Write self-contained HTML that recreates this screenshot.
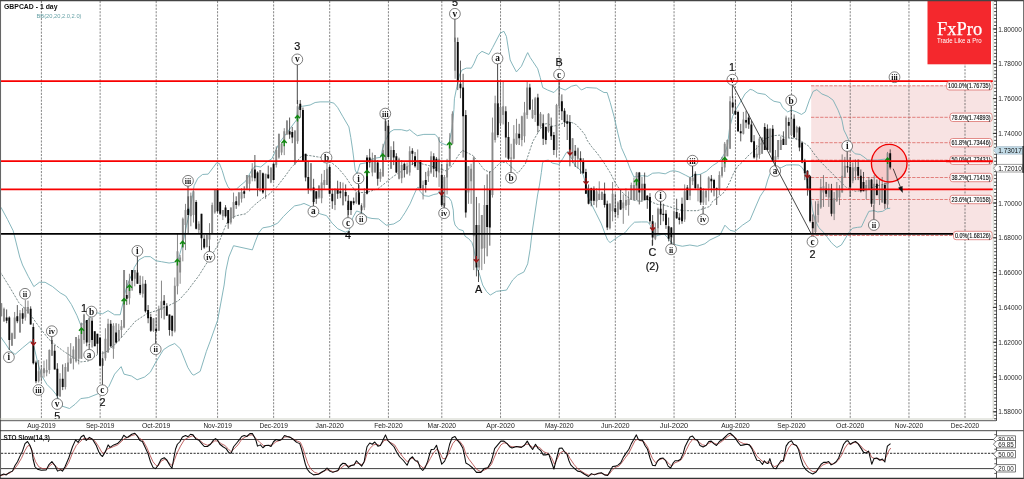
<!DOCTYPE html>
<html><head><meta charset="utf-8"><title>GBPCAD - 1 day</title>
<style>html,body{margin:0;padding:0;background:#fff;overflow:hidden}svg{display:block;filter:blur(0.3px)}</style>
</head><body>
<svg width="1024" height="479" viewBox="0 0 1024 479" font-family="'Liberation Sans', Arial, sans-serif">
<rect width="1024" height="479" fill="#fff"/>
<defs><clipPath id="mc"><rect x="0" y="1" width="993" height="418"/></clipPath></defs>
<g clip-path="url(#mc)">
<rect x="811.2" y="85.6" width="180.4" height="149.7" fill="#f8e3e3"/>
<g stroke="#4a4a4a" stroke-width="0.67" stroke-dasharray="2.1 1.3" fill="none">
<path d="M41.4 1V421M41.4 431V478"/>
<path d="M100.13 1V421M100.13 431V478"/>
<path d="M156.19 1V421M156.19 431V478"/>
<path d="M217.58 1V421M217.58 431V478"/>
<path d="M273.64 1V421M273.64 431V478"/>
<path d="M329.7 1V421M329.7 431V478"/>
<path d="M388.42 1V421M388.42 431V478"/>
<path d="M441.81 1V421M441.81 431V478"/>
<path d="M500.54 1V421M500.54 431V478"/>
<path d="M559.26 1V421M559.26 431V478"/>
<path d="M615.32 1V421M615.32 431V478"/>
<path d="M674.05 1V421M674.05 431V478"/>
<path d="M735.45 1V421M735.45 431V478"/>
<path d="M791.5 1V421M791.5 431V478"/>
<path d="M850.23 1V421M850.23 431V478"/>
<path d="M908.96 1V421M908.96 431V478"/>
<path d="M965.01 1V421M965.01 431V478"/>
</g>
<g stroke="#d9534f" stroke-width="0.7" stroke-dasharray="3.3 1.3" fill="none">
<path d="M811 85.8H946.6"/>
<path d="M811 117.3H950"/>
<path d="M811 142.7H950"/>
<path d="M811 160.2H950"/>
<path d="M811 177.5H950"/>
<path d="M811 199.5H950"/>
<path d="M811 235.5H953.5"/>
</g>
<ellipse cx="889.2" cy="163.2" rx="17.8" ry="18.8" fill="#f7caca"/>
<g fill="none" stroke="#78aeb4" stroke-width="0.9" stroke-linejoin="round">
<polyline points="0.94,207.24 7.51,219.45 13.15,230.72 15.97,242 19.73,257.03 22.54,265 28.18,276.27 33.82,286.6 39.45,282.28 45.09,282.28 52.6,286.6 60.12,292.8 65.75,296 71.39,304.45 77.03,315.72 80.78,325.12 86.42,321.36 92.05,315.72 97.69,312.91 102.39,313.85 108.02,310.65 114.6,314.78 120.23,314.78 123.05,302.57 125.87,289.42 129.63,279.09 133.39,271.58 134.32,267.36 139.02,259.84 144.66,256.65 150.29,256.65 155.93,260.78 161.57,261.72 169.08,263.04 174.72,262.29 178.47,258.9 183.17,242 187.87,219.45 192,198.79 194.09,185.75 197.85,178.24 202.54,174.48 208.18,174.11 212.88,167.91 216.63,162.83 219.45,163.59 222.27,170.72 225.09,180.12 227.91,186.69 230.72,189.89 236.36,189.14 240.12,185.75 245.75,181.06 251.39,170.72 255.15,166.03 260.78,166.97 266.42,162.27 272.05,158.51 275.81,150.06 279.57,142.54 285.21,135.03 290.84,127.51 296.48,120 297.57,109.39 300.08,106.26 302.58,106.26 310.1,105.01 315.11,102.5 320.12,101.88 328.88,101.88 333.89,103.13 337.65,107.51 342.66,116.28 348.92,126.93 350.8,137.57 352.68,150.1 353.93,159.99 355.19,170.03 357.06,173.79 360,163.87 365.64,162.94 369.39,160.12 375.03,158.24 380.67,157.3 382.54,148.85 385.36,140.39 390.06,131.94 393.82,129.68 401.33,129.68 406.97,131 409.78,129.68 413.54,132.88 417.3,135.69 423.87,134.38 435.15,134.38 437.96,137.57 439.84,142.27 442.66,143.59 446.42,145.09 449.24,142.27 452.05,128.18 453.93,109.39 454.42,98.84 456.93,86.31 459.43,75.04 461.94,70.03 466.32,68.15 471.33,68.15 473.84,63.77 477.59,55 481.98,51.35 488.86,54.48 492.62,47.59 500.14,33.19 503.89,31.31 506.4,36.32 510.16,59.99 512.66,65.02 516.42,71.91 521.43,66.27 526.44,55 527.69,52.6 530.2,57.5 532.7,61.26 537.71,68.78 540.22,77.54 542.72,87.56 547.61,90.02 553.87,92.52 558.88,87.51 565.15,90.02 571.41,86.26 576.42,85.01 581.43,90.02 586.44,87.51 596.46,88.14 603.97,92.52 607.1,92.52 610.23,102.54 613.99,116.32 618,133.86 621.37,147.51 626.38,158.79 630.14,168.81 633.89,176.95 637.65,176.32 642.66,175.69 647.67,176.32 652.68,173.19 658.94,172.81 665.21,173.82 670.22,171.31 673.97,170.68 678.98,171.94 685.24,175.07 690.02,177.56 693.78,175.06 700.04,174.43 706.3,171.3 712.56,165.67 717.57,162.53 721.33,158.78 725.09,152.51 727.59,145 729.47,128.84 732.6,116.31 736.36,108.8 740.12,102.53 745.13,93.77 750.14,89.38 752.64,90.01 757.65,93.14 765.17,94.39 770.18,98.78 773.93,101.28 780.2,102.53 782.7,107.54 787.71,111.93 791.47,110.05 796.48,111.93 801.49,114.43 805.24,111.93 809.33,100.2 813.09,91.43 816.85,89.68 821.86,93.93 828.12,96.44 833.13,100.2 838.14,110.22 841.89,119.98 843.86,130 846.36,135.01 848.86,140.65 851.37,150.04 855.13,153.8 860.14,154.42 863.89,156.93 867.65,160.06 877.67,160.06 885.19,159.06"/>
<polyline points="0,336.01 5.64,343.9 9.39,349.73 15.03,354.42 22.54,347.85 31,340.9 33.82,345.97 37.57,361.94 41.33,375.09 46.97,384.48 52.6,390.12 56.36,394.81 62,406.09 69.51,408.53 75.15,404.21 80.78,398.57 88.3,397.63 97.69,393.87 105.21,390.12 108.96,386.36 114.6,374.15 121.17,366.63 123.99,374.15 131.51,376.03 137.14,379.78 144.66,376.97 150.29,372.27 155.93,361.94 163.44,349.73 169.08,345.97 174.72,343.53 180.35,348.79 187.87,367.57 192,374.15 193.89,375.11 200.16,371.35 206.42,351.31 210.18,341.29 217.69,320 224.15,284.99 226.03,270.15 228.85,257 233.54,245.72 242,247.6 252.33,249.86 255.15,241.97 258.9,232.57 262.66,227.88 270.18,226.56 277.69,223.18 283.33,216.6 288.96,210.97 294.6,205.9 300.23,204.77 303.99,203.45 309.63,205.9 319.96,213.79 326.54,215.67 332.17,223.18 337.81,228.82 345.32,232.2 349.08,230.69 352.84,217.54 356.59,210.97 362.23,212.85 367.87,217.54 372,218.48 378.74,218.94 386.25,225.21 393.77,223.95 400.03,220.2 402.56,216.36 405.07,212.6 410.08,203.84 413.84,195.07 416.97,188.18 418.22,186.93 420.1,191.31 423.86,195.69 428.86,196.32 433.87,194.44 437.63,193.82 439.51,190.68 442.02,196.32 445.15,196.32 448.9,197.57 451.41,201.33 453.29,210.1 453.8,220 455.05,225.01 458.81,229.39 463.19,230.65 465.07,236.28 468.83,238.79 471.96,242.54 473.84,248.81 475.71,260.08 477.59,270.1 478.94,272.56 482.69,285.09 486.45,291.35 490.21,295.11 496.47,291.35 506.49,290.1 512.66,279.99 517.67,275.11 523.93,271.98 527.69,263.84 530.2,248.81 532.07,232.52 533.95,220 537.59,194.99 539.47,185.1 541.35,172.57 542.6,162.55 545.11,160.68 548.24,160.05 552.62,163.18 558.88,164.43 562.64,158.8 566.4,152.53 568.28,151.28 570.16,156.29 572.66,160.05 575.17,166.31 577.67,167.56 580.18,170.07 583.31,175.08 585.19,182.59 587.06,187.6 587.55,196.27 591.31,203.79 596.32,213.81 601.33,223.83 605.09,233.85 607.59,240.11 610.1,242.61 615.11,238.86 618.86,236.35 625.13,232.59 630.14,226.33 634.52,222.2 641.41,221.95 647.67,221.95 650.18,225.08 652.68,231.34 655.19,236.35 658.94,235.1 663.95,233.85 667.71,237.6 671.47,242.61 676.48,244.99 682.33,246.26 689.85,245.01 697.36,246.26 704.88,243.76 709.89,240 719.91,235.23 724.92,225.21 729.93,230.22 734.94,231.47 742.45,225.21 749.96,220.2 756.4,204.99 760.16,196.35 765.17,188.84 767.67,180.07 770.18,173.18 775.19,168.8 781.45,167.54 786.46,165.04 792.72,164.79 798.98,165.04 802.11,167.54 805.24,172.55 807.53,185.11 808.79,189.99 810.67,197.52 812.54,210.05 815.05,220.07 818.81,227.58 823.82,232.59 827.57,237.6 831.33,242.61 833.84,244.99 836.88,247.51 841.35,244.99 845.11,238.86 848.86,232.59 852.62,228.21 857.63,227.33 861.39,226.96 865.15,218.82 868.9,211.3 873.91,210.68 877.67,211.93 882.68,211.3 886.44,208.8 890.2,208.17"/>
</g>
<g fill="none" stroke="#4f6666" stroke-width="0.75" stroke-dasharray="2.2 1.3">
<polyline points="0,271.58 9.39,286.6 18.79,302.57 28.18,311.97 33.82,319.48 41.33,329.81 48.85,339.21 56.36,345.78 63.87,351.42 71.39,356.3 80.78,361.94 88.3,361 97.69,354.42 105.21,352.54 114.6,344.84 123.99,334.51 135.26,321.36 146.54,313.85 157.81,310.09 169.08,305.39 178.47,300.69 187.87,290.36 192,284.73 198.79,275.78 208.18,260.75 217.57,245.72 225.09,226.94 228.85,219.42 236.36,215.67 245.75,213.79 255.15,204.39 264.54,196.88 268.3,195 276.28,187.56 285.05,176.29 291.31,167.52 296.32,162.51 300.08,157.5 303.84,155 310.1,155.63 317.61,156.88 321.37,157.5 331.39,162.51 337.65,167.52 345.17,176.29 350.18,183.81 355.19,190.69 360.2,192.57 366.46,192.57 370.22,191.32 377.73,188.82 382.74,185.06 388,180.68 393.82,176.09 401.33,171.39 408.85,165.75 416.36,162 422,163.87 429.51,165.75 438.9,168.57 446.42,171.01 452.05,165.75 457.69,156.36 462.39,150.35 467.08,152.6 472.72,155.42 478.36,162 483.99,169.51 489.63,172.33 493.39,169.51 499.96,162.94 505.6,162 512.17,167.63 517.81,173.27 525.32,163.87 529.08,152.6 532.84,141.33 538.47,131.94 543.17,124.42 547.87,123.48 552,126.3 558.88,125.09 563.89,122.58 570.16,121.96 575.17,123.84 580.18,128.85 585.19,135.11 586.93,140 591.31,146.26 597.57,153.78 603.84,162.54 610.1,172.56 615.11,182.58 618.86,188.22 621.37,191.26 626.38,196.27 632.64,200.03 640.16,201.28 647.67,199.4 652.68,202.53 657.69,204.41 663.95,205.04 670.22,206.92 677.73,209.42 682.74,210.68 688,210.68 697.36,210.68 709.89,206.42 712.56,201.36 717.57,197.6 722.58,193.85 726.34,188.84 730.1,181.32 733.86,172.55 737.61,166.29 742.62,161.91 747.63,156.27 752.64,151.89 757.65,147.5 765.17,138.86 772.68,135.72 780.2,135.1 785.21,137.6 791.47,138.23 796.48,138.86 801.49,141.36 802.52,141.9 808.79,146.28 815.05,155.05 821.31,162.56 827.57,168.83 833.84,175.09 840.1,181.35 846.36,187.61 850.12,188.76 855.13,191.26 861.39,190.64 867.65,188.76 872.66,187.5 880.18,185 885.19,183.86 888.94,183.23"/>
</g>
<path d="M1.3 303.17V316.32M3.97 307.55V321.96M11.98 332.6V345.64M14.65 311.94V338.86M19.99 310.06V332.6M25.32 300.04V320.7M27.99 300.67V313.82M38.67 360.04V382.58M41.34 365.05V381.33M44.01 360.67V377.57M46.68 359.41V376.32M49.35 349.39V373.82M52.02 340V355.66M60.03 373.19V396.99M65.37 363.17V389.47M68.03 346.89V371.94M70.7 343.13V363.8M73.37 346.26V369.43M76.04 336.99V362.54M78.71 335.11V364.42M81.38 322.58V358.79M84.05 313.82V343.76M89.39 317.57V345.01M102.74 351.27V365.68M105.41 328.22V360.67M108.08 318.83V352.52M113.41 323.21V358.79M118.75 323.84V341.25M121.42 320V337.61M124.09 270V328.24M129.43 273.76V304.44M134.77 270V286.28M142.78 276.26V297.55M153.46 318.22V331.9M158.79 305.69V330.65M161.46 280.65V318.22M174.81 277.51V332.52M177.48 233.8V294.42M180.15 255.09V283.78M182.82 217.51V261.35M185.49 203.85V250.08M190.83 192.57V226.28M193.5 190.69V222.52M198.84 221.27V233.8M206.84 234.42V247.57M209.51 223.15V251.33M212.18 202.59V233.17M214.85 190.07V213.76M222.86 210V220.02M230.87 207.6V224.4M233.54 192.57V218.77M238.88 191.95V206.35M241.55 188.19V202.59M246.88 175.04V188.82M249.55 175.04V191.32M252.22 163.14V181.3M260.23 170.03V191.32M265.57 173.79V198.84M270.91 167.52V183.18M276.25 146.34V167.52M278.92 133.82V158.76M281.59 142.58V155.11M284.26 128.18V155.11M286.93 120.04V135.07M294.93 130.06V165.02M297.6 100V143.84M310.95 163.14V191.32M318.96 185.06V198.84M321.63 173.79V203.22M324.3 170.03V188.82M326.97 163.14V185.06M334.98 188.19V210.11M342.98 182.55V205.72M356.33 191.95V203.85M361.67 203.22V211.36M364.34 188.19V210.11M372.35 152.6V176.29M375.02 155V172.53M380.35 168.78V181.93M383.02 143.82V176.92M385.69 120.65V159.99M391.03 146.32V168.86M399.04 157.59V179.41M401.71 160V183.17M407.05 162.5V174.4M409.72 146.32V175.66M417.73 149.45V170.02M423.07 180.67V199.45M428.4 167.51V181.92M431.07 151.33V173.78M439.08 136.93V186.93M444.42 175.02V207.59M447.09 158.85V194.44M449.76 133.17V166.26M452.43 111.25V143.82M455.1 37.57V78.8M468.44 166.25V203.84M471.11 163.76V203.84M473.78 156.34V270.1M479.12 203.2V270.1M481.79 215.1V270.1M484.46 185.04V263.84M492.47 117.57V197.56M495.14 95.7V142.56M500.48 81.93V126.28M503.15 81.93V124.46M511.16 143.77V160.05M513.82 125.09V159.42M516.49 118.83V145.02M521.83 115.69V146.27M524.5 101.92V142.51M527.17 81.25V118.83M532.51 99.41V118.83M535.18 96.91V121.96M540.52 111.99V127.59M548.53 113.19V132.6M556.54 103.85V157.54M559.2 95.66V115.07M572.55 138.24V163.17M577.89 147.51V168.81M596.58 188.22V207.54M599.25 181.33V200.03M601.91 191.36V199.99M609.92 203.16V229.46M612.59 181.96V221.32M617.93 201.28V218.19M623.27 194.39V223.83M625.94 188.22V210.05M628.61 191.35V215.68M631.28 182.58V199.99M633.95 177.57V199.99M636.62 171.94V199.99M641.96 176.95V201.91M655.3 222.57V240.11M657.97 207.54V233.22M673.99 210.68V244.99M684.67 184.45V221.95M690.01 176.94V200.11M692.67 166.92V185.08M698.01 183.83V201.36M703.35 188.21V204.99M706.02 190.09V204.99M708.69 176.31V201.36M719.37 171.3V195.1M722.04 156.9V177.56M724.71 141.99V171.93M727.38 139.48V156.27M730.05 96.27V148.76M743.39 111.93V134.47M756.74 145V160.66M759.41 136.98V158.78M762.08 137.6V153.77M770.09 128.21V152.51M775.43 150.01V165.04M778.1 140.11V159.4M780.76 136.35V150.01M786.1 115.68V144.99M791.44 117.56V136.35M796.78 125.7V140.11M815.47 201.28V233.22M818.14 200.66V222.57M820.81 178.85V208.8M823.48 175.09V206.92M828.81 183.86V206.92M834.15 191.89V220.07M836.82 181.98V201.91M839.49 185.11V205.04M842.16 154.42V192.51M844.83 156.93V177.59M852.84 162.56V183.23M855.51 159.43V180.1M866.19 180.1V199.4M868.85 176.97V189.99M874.19 175.09V205.04M879.53 180.1V205.04M882.2 176.97V202.53M887.54 151.92V208.17" stroke="#555" stroke-width="0.7" fill="none"/>
<path d="M6.64 309.43V323.21M9.31 316.32V350.02M17.32 305.05V323.21M22.66 308.18V323.84M30.66 306.3V324.46M33.33 323.21V364.42M36 360.67V383.21M54.69 345.01V369.43M57.36 363.17V398.86M62.7 364.42V390.1M86.72 320.08V346.26M92.06 317.57V347.51M94.73 331.35V346.26M97.4 333.86V353.78M100.07 337.61V365.68M110.75 320.08V347.51M116.08 323.21V343.76M126.76 280.02V305.05M132.1 270V290.67M137.44 270V283.78M140.11 275.64V295.05M145.45 280.02V312.58M148.12 305.07V323.23M150.79 313.84V331.9M156.13 317.59V331.9M164.13 295.05V319.47M166.8 303.19V315.71M169.47 314.46V335.66M172.14 315.71V336.28M188.16 196.33V233.8M196.17 200.09V229.41M201.51 213.86V250.08M204.17 235.05V248.83M217.52 190.07V212.5M220.19 201.34V215.01M225.53 205.1V217.51M228.2 210.11V228.79M236.21 196.33V208.86M244.22 186.31V198.21M254.89 155V181.3M257.56 171.28V196.33M262.9 172.53V193.83M268.24 165.65V178.8M273.58 163.14V180.68M289.6 117.53V138.83M292.26 126.93V143.21M300.27 100V117.53M302.94 107.51V161.26M305.61 153.86V181.3M308.28 161.26V193.83M313.62 178.8V203.85M316.29 191.32V203.85M329.64 165.65V194.45M332.31 188.82V208.86M337.64 180.68V198.84M340.31 181.93V198.21M345.65 184.43V201.34M348.32 195.08V214.99M350.99 200.71V214.99M353.66 197.58V205.1M359 185.06V205.1M367.01 155.11V194.45M369.68 148.85V167.52M377.69 160V185.68M388.36 120.02V157.59M393.7 141.31V165.11M396.37 153.21V173.15M404.38 162.5V177.53M412.39 148.2V165.11M415.06 151.96V167.61M420.4 160V188.81M425.73 171.9V192.56M433.74 153.21V176.91M436.41 156.97V177.53M441.75 163.76V206.33M457.77 37.57V90.07M460.44 60.64V98.21M463.11 73.79V157.59M465.78 110.11V217.61M476.45 196.94V276.36M487.13 174.39V256.32M489.8 171.26V245.68M497.81 80V137.5M505.82 106.3V157.59M508.49 121.96V160.05M519.16 123.84V145.02M529.84 83.76V110.11M537.85 93.78V132.6M543.19 114.44V145.02M545.86 126.34V144.39M551.2 117.57V139.99M553.87 131.98V155.04M561.87 94.4V120.08M564.54 108.18V126.97M567.21 114.44V139.99M569.88 115.07V166.31M575.22 145.01V166.94M580.56 151.27V173.82M583.23 158.16V173.83M585.9 168.82V193.77M588.57 184.46V204.41M591.24 187.6V206.29M593.91 186.34V205.04M604.58 182.59V207.54M607.25 200.66V230.09M615.26 193.77V217.56M620.6 190.1V210.05M639.29 171.94V204.41M644.63 172.56V199.99M647.29 195.02V208.8M649.96 193.14V223.83M652.63 215.06V244.99M660.64 201.28V225.08M663.31 203.79V221.32M665.98 210.05V228.84M668.65 217.56V241.36M671.32 226.96V244.99M676.66 198.78V218.82M679.33 213.18V224.45M682 197.6V223.83M687.34 185V200.11M695.34 171.3V188.84M700.68 174.43V204.99M711.36 175.06V192.59M714.03 178.82V196.35M716.7 187.58V204.99M732.72 96.27V113.81M735.38 99.4V115.06M738.05 110.68V131.97M740.72 123.83V141.36M746.06 110.68V128.21M748.73 113.81V128.84M751.4 120.69V142.61M754.07 135.1V158.78M764.75 123.2V150.01M767.42 124.45V150.01M772.76 125.08V161.28M783.43 131.34V144.99M788.77 117.56V137.6M794.11 114.43V137.51M799.45 126.33V151.29M802.12 142.61V163.19M804.79 158.81V180.1M807.46 170.05V195.65M810.13 175.71V222.57M812.8 214.43V233.85M826.14 181.98V196.9M831.48 183.86V216.31M847.5 160.06V172.58M850.17 156.93V196.9M858.18 159.43V180.1M860.85 169.45V192.51M863.52 171.96V191.26M871.52 178.85V206.92M876.86 179.47V195.65M884.87 182.6V208.8M890.21 149.41V169.45" stroke="#111" stroke-width="0.7" fill="none"/>
<path d="M1.3 303.17V316.32M3.97 308.81V321.33M11.98 333.23V345.64M14.65 317.57V338.86M19.99 313.19V332.6M25.32 306.93V317.57M27.99 306.93V313.19M38.67 371.31V381.33M41.34 369.43V377.57M44.01 368.18V373.19M46.68 370.06V372.56M49.35 350.02V370.06M52.02 340V355.66M60.03 378.83V396.36M65.37 366.93V386.97M68.03 362.54V371.31M70.7 358.16V363.17M73.37 349.39V358.79M76.04 336.99V361.29M78.71 338.86V358.79M81.38 323.21V358.79M84.05 314.44V340M89.39 317.57V342.5M102.74 358.79V365.68M105.41 338.86V358.16M108.08 323.84V352.52M113.41 325.71V348.77M118.75 330.1V341.25M121.42 326.26V330.1M124.09 270V327.61M129.43 281.27V298.18M134.77 270V278.77M142.78 283.78V293.8M153.46 318.22V330.65M158.79 308.83V330.65M161.46 301.31V310.08M174.81 285.66V331.27M177.48 251.33V286.28M180.15 257.59V272.5M182.82 218.77V247.57M185.49 210.11V225.03M190.83 195.7V216.26M193.5 191.32V215.01M198.84 223.78V230.04M206.84 235.05V246.95M209.51 235.05V239.43M212.18 205.1V233.17M214.85 190.07V212.5M222.86 210.11V216.26M230.87 207.6V222.52M233.54 201.97V217.51M238.88 192.57V205.1M241.55 191.95V198.84M246.88 175.04V188.82M249.55 175.67V183.81M252.22 168.78V177.54M260.23 170.03V191.32M265.57 173.79V190.07M270.91 167.52V182.55M276.25 150.1V165.02M278.92 133.82V157.5M281.59 143.84V152.6M284.26 131.31V142.58M286.93 120.67V134.44M294.93 130.68V163.77M297.6 106.26V141.33M310.95 163.14V190.07M318.96 185.68V197.58M321.63 182.55V198.21M324.3 180.05V185.06M326.97 168.78V185.06M334.98 189.44V205.1M342.98 190.07V205.1M356.33 192.57V202.59M361.67 206.35V210.11M364.34 193.83V207.6M372.35 158.86V172.53M375.02 155.11V172.52M380.35 171.9V178.79M383.02 150.1V176.29M385.69 121.27V159.99M391.03 150.08V168.77M399.04 158.85V178.79M401.71 165.11V178.16M407.05 166.26V173.78M409.72 151.33V172.52M417.73 160V170.02M423.07 185.05V190.06M428.4 170.65V176.28M431.07 156.34V172.52M439.08 158.85V172.52M444.42 176.9V205.71M447.09 163.76V177.53M449.76 145.07V166.26M452.43 113.76V143.82M455.1 41.96V70.66M468.44 166.36V192.56M471.11 168.86V181.28M473.78 157.59V236.28M479.12 224.99V267.59M481.79 215.1V248.81M484.46 205.08V248.18M492.47 132.6V194.99M495.14 103.17V139.99M500.48 106.93V123.21M503.15 106.35V115.01M511.16 157.54V158.8M513.82 138.86V158.8M516.49 133.23V143.77M521.83 116.32V139.99M524.5 112.61V136.25M527.17 87.51V114.99M532.51 110.06V118.2M535.18 98.21V114.99M540.52 113.86V126.34M548.53 113.86V131.35M556.54 105.1V150.03M559.2 96.28V106.3M572.55 138.24V158.8M577.89 148.14V158.8M596.58 191.36V201.28M599.25 193.77V199.99M601.91 191.89V199.99M609.92 203.79V228.21M612.59 193.86V211.3M617.93 202.53V215.06M623.27 202.53V208.17M625.94 199.99V205.67M628.61 198.78V205.04M631.28 185V199.99M633.95 185V199.99M636.62 172.56V199.99M641.96 183.84V199.99M655.3 228.84V238.86M657.97 208.8V228.21M673.99 211.3V244.99M684.67 191.26V219.44M690.01 177.56V195.72M692.67 177.56V181.32M698.01 184.45V188.21M703.35 191.34V202.61M706.02 190.71V197.6M708.69 177.56V188.21M719.37 175.06V188.84M722.04 166.92V175.68M724.71 143.86V167.54M727.38 140.11V156.27M730.05 101.28V148.76M743.39 119.44V133.85M756.74 153.77V157.52M759.41 138.86V155.02M762.08 137.6V153.77M770.09 128.84V152.51M775.43 156.27V160.66M778.1 140.11V156.9M780.76 140.11V150.01M786.1 117.56V144.99M791.44 118.82V135.01M796.78 126.96V132.5M815.47 215.68V231.97M818.14 203.79V215.06M820.81 186.88V207.54M823.48 186.36V192.51M828.81 188.86V197.52M834.15 198.15V213.81M836.82 188.86V200.66M839.49 188.86V197.52M842.16 175.71V192.51M844.83 165.69V177.59M852.84 167.57V180.72M855.51 166.95V171.33M866.19 185V191.26M868.85 180.1V189.99M874.19 183.86V203.79M879.53 188.86V198.78M882.2 185V202.53M887.54 153.17V204.41" stroke="#8a8a8a" stroke-width="1.9" fill="none"/>
<path d="M6.64 317.57V320.7M9.31 317.57V340M17.32 316.32V321.33M22.66 313.19V318.83M30.66 308.81V324.46M33.33 326.97V363.17M36 362.54V381.33M54.69 350.65V369.43M57.36 368.81V395.73M62.7 378.83V386.97M86.72 320.08V342.5M92.06 320.7V340M94.73 331.35V346.26M97.4 333.86V343.76M100.07 337.61V365.68M110.75 323.84V346.26M116.08 332.6V342.5M126.76 295.03V298.79M132.1 270V280.65M137.44 272.5V283.78M140.11 285.03V293.17M145.45 283.78V311.33M148.12 310.08V318.22M150.79 316.97V330.65M156.13 328.86V331.27M164.13 300.68V305.07M166.8 306.32V315.71M169.47 314.46V329.99M172.14 315.71V330.65M188.16 208.86V215.01M196.17 201.97V228.79M201.51 213.86V238.18M204.17 238.81V247.57M217.52 190.07V211.25M220.19 201.97V213.86M225.53 207.6V216.26M228.2 210.11V223.15M236.21 201.34V205.1M244.22 191.32V193.83M254.89 169.4V178.17M257.56 172.53V188.19M262.9 173.16V192.57M268.24 174.41V178.17M273.58 163.77V180.05M289.6 131.31V134.44M292.26 131.94V137.57M300.27 103.76V110.02M302.94 110.02V161.26M305.61 153.86V177.54M308.28 176.92V190.07M313.62 187.56V201.97M316.29 191.32V198.84M329.64 166.9V193.83M332.31 193.83V201.34M337.64 190.07V193.83M340.31 191.32V193.2M345.65 191.95V196.33M348.32 200.71V210.11M350.99 201.34V210.11M353.66 201.34V203.22M359 192.57V204.47M367.01 157.61V193.83M369.68 157.5V162.51M377.69 162.51V178.8M388.36 125.66V156.97M393.7 150.08V157.59M396.37 156.34V172.52M404.38 163.76V169.99M412.39 150.7V153.84M415.06 156.34V166.36M420.4 160V188.18M425.73 180.04V185.05M433.74 156.34V168.86M436.41 158.85V171.26M441.75 175.02V205.09M457.77 41.96V80.68M460.44 83.81V88.19M463.11 87.56V116.26M465.78 114.99V212.6M476.45 224.99V267.59M487.13 205.08V226.89M489.8 189.42V227.51M497.81 103.17V135M505.82 111.36V137.5M508.49 136.99V158.8M519.16 133.86V138.24M529.84 87.51V109.43M537.85 97.53V125.71M543.19 123.21V138.86M545.86 126.97V139.99M551.2 126.34V136.25M553.87 135V150.03M561.87 101.29V111.31M564.54 110.68V121.96M567.21 121.33V123.84M569.88 121.96V150.03M575.22 150.66V155.66M580.56 158.16V161.3M583.23 161.29V173.19M585.9 171.94V193.77M588.57 188.86V203.79M591.24 188.22V200.66M593.91 188.85V200.66M604.58 193.86V205.04M607.25 203.79V227.58M615.26 208.17V211.93M620.6 199.99V209.42M639.29 172.56V192.6M644.63 183.84V199.99M647.29 195.65V200.03M649.96 196.9V221.32M652.63 221.32V237.6M660.64 208.8V214.43M663.31 213.81V215.06M665.98 213.81V225.08M668.65 226.33V238.86M671.32 227.58V237.6M676.66 211.93V218.19M679.33 217.56V220.07M682 203.86V221.32M687.34 187.59V199.99M695.34 173.81V188.21M700.68 187.58V202.61M711.36 178.82V181.32M714.03 180.07V188.21M716.7 188.21V189.46M732.72 102.53V107.54M735.38 110.68V114.43M738.05 111.93V131.34M740.72 131.34V133.22M746.06 120.07V122.57M748.73 117.56V124.45M751.4 124.45V141.99M754.07 141.36V157.52M764.75 126.96V150.01M767.42 128.84V150.01M772.76 128.84V160.66M783.43 138.86V144.99M788.77 121.95V125.7M794.11 118.82V137.51M799.45 127.58V147.5M802.12 142.61V162.53M804.79 160.68V173.18M807.46 170.68V188.84M810.13 176.34V221.32M812.8 221.95V228.21M826.14 188.86V193.77M831.48 188.86V213.81M847.5 166.32V167.57M850.17 166.95V187.5M858.18 166.95V175.71M860.85 175.71V191.26M863.52 181.98V191.26M871.52 179.47V203.79M876.86 183.86V195.02M884.87 185V203.79M890.21 153.17V167.57" stroke="#0a0a0a" stroke-width="1.9" fill="none"/>
<path d="M81.5 328.1v6M79 330.8l2.5 -2.7l2.5 2.7" fill="none" stroke="#118811" stroke-width="1.4" stroke-linejoin="miter"/>
<path d="M124.1 298.6v6M121.6 301.3l2.5 -2.7l2.5 2.7" fill="none" stroke="#118811" stroke-width="1.4" stroke-linejoin="miter"/>
<path d="M129.5 285v6M127 287.7l2.5 -2.7l2.5 2.7" fill="none" stroke="#118811" stroke-width="1.4" stroke-linejoin="miter"/>
<path d="M177.4 259.4v6M174.9 262.1l2.5 -2.7l2.5 2.7" fill="none" stroke="#118811" stroke-width="1.4" stroke-linejoin="miter"/>
<path d="M182.6 241.2v6M180.1 243.9l2.5 -2.7l2.5 2.7" fill="none" stroke="#118811" stroke-width="1.4" stroke-linejoin="miter"/>
<path d="M284.2 140.2v6M281.7 142.9l2.5 -2.7l2.5 2.7" fill="none" stroke="#118811" stroke-width="1.4" stroke-linejoin="miter"/>
<path d="M297.5 115.6v6M295 118.3l2.5 -2.7l2.5 2.7" fill="none" stroke="#118811" stroke-width="1.4" stroke-linejoin="miter"/>
<path d="M367 170.2v6M364.5 172.9l2.5 -2.7l2.5 2.7" fill="none" stroke="#118811" stroke-width="1.4" stroke-linejoin="miter"/>
<path d="M382.8 154.1v6M380.3 156.8l2.5 -2.7l2.5 2.7" fill="none" stroke="#118811" stroke-width="1.4" stroke-linejoin="miter"/>
<path d="M449.6 142.4v6M447.1 145.1l2.5 -2.7l2.5 2.7" fill="none" stroke="#118811" stroke-width="1.4" stroke-linejoin="miter"/>
<path d="M636.5 179.4v6M634 182.1l2.5 -2.7l2.5 2.7" fill="none" stroke="#118811" stroke-width="1.4" stroke-linejoin="miter"/>
<path d="M724.7 157.5v6M722.2 160.2l2.5 -2.7l2.5 2.7" fill="none" stroke="#118811" stroke-width="1.4" stroke-linejoin="miter"/>
<path d="M887.6 158.1v6M885.1 160.8l2.5 -2.7l2.5 2.7" fill="none" stroke="#118811" stroke-width="1.4" stroke-linejoin="miter"/>
<path d="M33.4 345v-6M30.9 342.3l2.5 2.7l2.5 -2.7" fill="none" stroke="#991515" stroke-width="1.4" stroke-linejoin="miter"/>
<path d="M441.5 195v-6M439 192.3l2.5 2.7l2.5 -2.7" fill="none" stroke="#991515" stroke-width="1.4" stroke-linejoin="miter"/>
<path d="M476.3 261.9v-6M473.8 259.2l2.5 2.7l2.5 -2.7" fill="none" stroke="#991515" stroke-width="1.4" stroke-linejoin="miter"/>
<path d="M570 155v-6M567.5 152.3l2.5 2.7l2.5 -2.7" fill="none" stroke="#991515" stroke-width="1.4" stroke-linejoin="miter"/>
<path d="M586 183.9v-6M583.5 181.2l2.5 2.7l2.5 -2.7" fill="none" stroke="#991515" stroke-width="1.4" stroke-linejoin="miter"/>
<path d="M652.6 230.1v-6M650.1 227.4l2.5 2.7l2.5 -2.7" fill="none" stroke="#991515" stroke-width="1.4" stroke-linejoin="miter"/>
<path d="M807.4 177.6v-6M804.9 174.9l2.5 2.7l2.5 -2.7" fill="none" stroke="#991515" stroke-width="1.4" stroke-linejoin="miter"/>
<g stroke="#1a1a1a" stroke-width="0.8" fill="none">
<path d="M297.3 64.7L297.3 104"/>
<path d="M454.9 19L454.9 42"/>
<path d="M497.6 63.8L497.6 103"/>
<path d="M559.1 80L559.1 96"/>
<path d="M732.4 85L732.4 98"/>
<path d="M791.2 105.6L791.2 119"/>
<path d="M188 186L188 209"/>
<path d="M137.4 256.2L137.4 272.5"/>
<path d="M155.7 332L155.7 343.8"/>
<path d="M102.4 358L102.4 385"/>
<path d="M89.2 344L89.2 349.5"/>
<path d="M51.8 336.5L51.8 344"/>
<path d="M209.4 246L209.4 251.5"/>
<path d="M511 160L511 172.5"/>
<path d="M703.1 206L703.1 214"/>
<path d="M873.9 205L873.9 219.7"/>
<path d="M847.2 151.3L847.2 160"/>
<path d="M348 205L348 217.7"/>
<path d="M385.3 119L385.3 131"/>
<path d="M660.6 201.3L660.6 209"/>
<path d="M478.5 270L478.5 282"/>
<path d="M652.3 240L652.3 246"/>
<path d="M775.2 160L775.2 165.7"/>
<path d="M313.4 200L313.4 206.2"/>
<path d="M358.5 183.7L358.5 194"/>
<path d="M361.3 205L361.3 213.7"/>
<path d="M671.1 238L671.1 244"/>
<path d="M444.1 203L444.1 208"/>
<path d="M692.5 166L692.5 177"/>
</g>
<circle cx="8.9" cy="357.2" r="5.4" fill="#fff" stroke="#3a3a3a" stroke-width="0.65"/>
<text x="8.9" y="360.4" font-family="'Liberation Serif', serif" font-weight="bold" font-size="9.3" text-anchor="middle" fill="#111">i</text>
<circle cx="25" cy="293.8" r="5.4" fill="#fff" stroke="#3a3a3a" stroke-width="0.65"/>
<text x="25" y="297" font-family="'Liberation Serif', serif" font-weight="bold" font-size="7.9" text-anchor="middle" fill="#111">ii</text>
<circle cx="38.5" cy="390" r="5.4" fill="#fff" stroke="#3a3a3a" stroke-width="0.65"/>
<text x="38.5" y="393.2" font-family="'Liberation Serif', serif" font-weight="bold" font-size="7.9" text-anchor="middle" fill="#111">iii</text>
<circle cx="51.8" cy="331.2" r="5.4" fill="#fff" stroke="#3a3a3a" stroke-width="0.65"/>
<text x="51.8" y="334.2" font-family="'Liberation Serif', serif" font-weight="bold" font-size="7.9" text-anchor="middle" fill="#111">iv</text>
<circle cx="57.2" cy="404" r="5.4" fill="#fff" stroke="#3a3a3a" stroke-width="0.65"/>
<text x="57.2" y="406.9" font-family="'Liberation Serif', serif" font-weight="bold" font-size="9.3" text-anchor="middle" fill="#111">v</text>
<circle cx="91.5" cy="311.6" r="5.4" fill="#fff" stroke="#3a3a3a" stroke-width="0.65"/>
<text x="91.5" y="314.8" font-family="'Liberation Serif', serif" font-weight="bold" font-size="9.3" text-anchor="middle" fill="#111">b</text>
<circle cx="89.2" cy="354.8" r="5.4" fill="#fff" stroke="#3a3a3a" stroke-width="0.65"/>
<text x="89.2" y="357.7" font-family="'Liberation Serif', serif" font-weight="bold" font-size="9.3" text-anchor="middle" fill="#111">a</text>
<circle cx="102.4" cy="390.2" r="5.4" fill="#fff" stroke="#3a3a3a" stroke-width="0.65"/>
<text x="102.4" y="393.1" font-family="'Liberation Serif', serif" font-weight="bold" font-size="9.3" text-anchor="middle" fill="#111">c</text>
<circle cx="137.4" cy="250.9" r="5.4" fill="#fff" stroke="#3a3a3a" stroke-width="0.65"/>
<text x="137.4" y="254.1" font-family="'Liberation Serif', serif" font-weight="bold" font-size="9.3" text-anchor="middle" fill="#111">i</text>
<circle cx="155.7" cy="349.2" r="5.4" fill="#fff" stroke="#3a3a3a" stroke-width="0.65"/>
<text x="155.7" y="352.4" font-family="'Liberation Serif', serif" font-weight="bold" font-size="7.9" text-anchor="middle" fill="#111">ii</text>
<circle cx="188" cy="180.8" r="5.4" fill="#fff" stroke="#3a3a3a" stroke-width="0.65"/>
<text x="188" y="184" font-family="'Liberation Serif', serif" font-weight="bold" font-size="7.9" text-anchor="middle" fill="#111">iii</text>
<circle cx="209.4" cy="256.8" r="5.4" fill="#fff" stroke="#3a3a3a" stroke-width="0.65"/>
<text x="209.4" y="259.8" font-family="'Liberation Serif', serif" font-weight="bold" font-size="7.9" text-anchor="middle" fill="#111">iv</text>
<circle cx="297.3" cy="59.4" r="5.4" fill="#fff" stroke="#3a3a3a" stroke-width="0.65"/>
<text x="297.3" y="62.3" font-family="'Liberation Serif', serif" font-weight="bold" font-size="9.3" text-anchor="middle" fill="#111">v</text>
<circle cx="313.4" cy="211.5" r="5.4" fill="#fff" stroke="#3a3a3a" stroke-width="0.65"/>
<text x="313.4" y="214.4" font-family="'Liberation Serif', serif" font-weight="bold" font-size="9.3" text-anchor="middle" fill="#111">a</text>
<circle cx="326.5" cy="157.6" r="5.4" fill="#fff" stroke="#3a3a3a" stroke-width="0.65"/>
<text x="326.5" y="160.8" font-family="'Liberation Serif', serif" font-weight="bold" font-size="9.3" text-anchor="middle" fill="#111">b</text>
<circle cx="348" cy="223" r="5.4" fill="#fff" stroke="#3a3a3a" stroke-width="0.65"/>
<text x="348" y="225.9" font-family="'Liberation Serif', serif" font-weight="bold" font-size="9.3" text-anchor="middle" fill="#111">c</text>
<circle cx="361.3" cy="219" r="5.4" fill="#fff" stroke="#3a3a3a" stroke-width="0.65"/>
<text x="361.3" y="222.2" font-family="'Liberation Serif', serif" font-weight="bold" font-size="7.9" text-anchor="middle" fill="#111">ii</text>
<circle cx="358.5" cy="178.4" r="5.4" fill="#fff" stroke="#3a3a3a" stroke-width="0.65"/>
<text x="358.5" y="181.6" font-family="'Liberation Serif', serif" font-weight="bold" font-size="9.3" text-anchor="middle" fill="#111">i</text>
<circle cx="385.3" cy="113.6" r="5.4" fill="#fff" stroke="#3a3a3a" stroke-width="0.65"/>
<text x="385.3" y="116.8" font-family="'Liberation Serif', serif" font-weight="bold" font-size="7.9" text-anchor="middle" fill="#111">iii</text>
<circle cx="444.1" cy="213.2" r="5.4" fill="#fff" stroke="#3a3a3a" stroke-width="0.65"/>
<text x="444.1" y="216.2" font-family="'Liberation Serif', serif" font-weight="bold" font-size="7.9" text-anchor="middle" fill="#111">iv</text>
<circle cx="454.9" cy="13.8" r="5.4" fill="#fff" stroke="#3a3a3a" stroke-width="0.65"/>
<text x="454.9" y="16.7" font-family="'Liberation Serif', serif" font-weight="bold" font-size="9.3" text-anchor="middle" fill="#111">v</text>
<circle cx="497.5" cy="58.5" r="5.4" fill="#fff" stroke="#3a3a3a" stroke-width="0.65"/>
<text x="497.5" y="61.4" font-family="'Liberation Serif', serif" font-weight="bold" font-size="9.3" text-anchor="middle" fill="#111">a</text>
<circle cx="511" cy="177.8" r="5.4" fill="#fff" stroke="#3a3a3a" stroke-width="0.65"/>
<text x="511" y="181" font-family="'Liberation Serif', serif" font-weight="bold" font-size="9.3" text-anchor="middle" fill="#111">b</text>
<circle cx="559.1" cy="74.6" r="5.4" fill="#fff" stroke="#3a3a3a" stroke-width="0.65"/>
<text x="559.1" y="77.5" font-family="'Liberation Serif', serif" font-weight="bold" font-size="9.3" text-anchor="middle" fill="#111">c</text>
<circle cx="660.6" cy="196" r="5.4" fill="#fff" stroke="#3a3a3a" stroke-width="0.65"/>
<text x="660.6" y="199.2" font-family="'Liberation Serif', serif" font-weight="bold" font-size="9.3" text-anchor="middle" fill="#111">i</text>
<circle cx="671.1" cy="249.3" r="5.4" fill="#fff" stroke="#3a3a3a" stroke-width="0.65"/>
<text x="671.1" y="252.5" font-family="'Liberation Serif', serif" font-weight="bold" font-size="7.9" text-anchor="middle" fill="#111">ii</text>
<circle cx="692.5" cy="160.7" r="5.4" fill="#fff" stroke="#3a3a3a" stroke-width="0.65"/>
<text x="692.5" y="163.9" font-family="'Liberation Serif', serif" font-weight="bold" font-size="7.9" text-anchor="middle" fill="#111">iii</text>
<circle cx="703.1" cy="219.4" r="5.4" fill="#fff" stroke="#3a3a3a" stroke-width="0.65"/>
<text x="703.1" y="222.4" font-family="'Liberation Serif', serif" font-weight="bold" font-size="7.9" text-anchor="middle" fill="#111">iv</text>
<circle cx="732.4" cy="79.7" r="5.4" fill="#fff" stroke="#3a3a3a" stroke-width="0.65"/>
<text x="732.4" y="82.6" font-family="'Liberation Serif', serif" font-weight="bold" font-size="9.3" text-anchor="middle" fill="#111">v</text>
<circle cx="775.2" cy="171" r="5.4" fill="#fff" stroke="#3a3a3a" stroke-width="0.65"/>
<text x="775.2" y="173.9" font-family="'Liberation Serif', serif" font-weight="bold" font-size="9.3" text-anchor="middle" fill="#111">a</text>
<circle cx="791.2" cy="100.3" r="5.4" fill="#fff" stroke="#3a3a3a" stroke-width="0.65"/>
<text x="791.2" y="103.5" font-family="'Liberation Serif', serif" font-weight="bold" font-size="9.3" text-anchor="middle" fill="#111">b</text>
<circle cx="812.5" cy="241.6" r="5.4" fill="#fff" stroke="#3a3a3a" stroke-width="0.65"/>
<text x="812.5" y="244.5" font-family="'Liberation Serif', serif" font-weight="bold" font-size="9.3" text-anchor="middle" fill="#111">c</text>
<circle cx="847.2" cy="146" r="5.4" fill="#fff" stroke="#3a3a3a" stroke-width="0.65"/>
<text x="847.2" y="149.2" font-family="'Liberation Serif', serif" font-weight="bold" font-size="9.3" text-anchor="middle" fill="#111">i</text>
<circle cx="873.9" cy="225" r="5.4" fill="#fff" stroke="#3a3a3a" stroke-width="0.65"/>
<text x="873.9" y="228.2" font-family="'Liberation Serif', serif" font-weight="bold" font-size="7.9" text-anchor="middle" fill="#111">ii</text>
<circle cx="894.5" cy="77.2" r="5.4" fill="#fff" stroke="#3a3a3a" stroke-width="0.65"/>
<text x="894.5" y="80.4" font-family="'Liberation Serif', serif" font-weight="bold" font-size="7.9" text-anchor="middle" fill="#111">iii</text>
<text x="57.3" y="419.5" font-size="10.8" text-anchor="middle" fill="#111" stroke="#111" stroke-width="0.2">5</text>
<text x="84" y="312.1" font-size="10.8" text-anchor="middle" fill="#111" stroke="#111" stroke-width="0.2">1</text>
<text x="102.4" y="406.3" font-size="10.8" text-anchor="middle" fill="#111" stroke="#111" stroke-width="0.2">2</text>
<text x="297.3" y="50.2" font-size="10.8" text-anchor="middle" fill="#111" stroke="#111" stroke-width="0.2">3</text>
<text x="348.1" y="239.3" font-size="10.8" text-anchor="middle" fill="#111" stroke="#111" stroke-width="0.2">4</text>
<text x="454.9" y="5.9" font-size="10.8" text-anchor="middle" fill="#111" stroke="#111" stroke-width="0.2">5</text>
<text x="478.5" y="292.7" font-size="10.8" text-anchor="middle" fill="#111" stroke="#111" stroke-width="0.2">A</text>
<text x="559.1" y="66" font-size="10.8" text-anchor="middle" fill="#111" stroke="#111" stroke-width="0.2">B</text>
<text x="652.3" y="256.4" font-size="10.8" text-anchor="middle" fill="#111" stroke="#111" stroke-width="0.2">C</text>
<text x="652.3" y="269.7" font-size="10.8" text-anchor="middle" fill="#111" stroke="#111" stroke-width="0.2">(2)</text>
<text x="732" y="71" font-size="10.8" text-anchor="middle" fill="#111" stroke="#111" stroke-width="0.2">1</text>
<text x="812.6" y="257.7" font-size="10.8" text-anchor="middle" fill="#111" stroke="#111" stroke-width="0.2">2</text>
<g stroke="#f80000" stroke-width="1.8">
<path d="M1 81.2H993"/>
<path d="M1 161.2H993"/>
<path d="M1 189.4H993"/>
</g>
<path d="M1 233.9H953" stroke="#000" stroke-width="1.9"/>
<g stroke="#1a1a1a" stroke-width="0.8" fill="none">
<path d="M733.2 85.6L811 233.3"/>
</g>
<ellipse cx="889.2" cy="163.2" rx="17.8" ry="18.8" fill="none" stroke="#f00000" stroke-width="1.35"/>
<path d="M893.2 168.7L900.6 187.6" stroke="#111" stroke-width="0.75"/>
<path d="M902.8 193.0L898.1 187.8L902.5 186.1z" fill="#111"/>
</g>
<rect x="946.6" y="81.6" width="45.6" height="8.4" rx="2.6" fill="#fff" stroke="#d9605c" stroke-width="0.7"/>
<text x="948.1" y="88.05" font-size="6.3" textLength="42.4" lengthAdjust="spacingAndGlyphs" fill="#111" stroke="#111" stroke-width="0.12">100.0%(1.76735)</text>
<rect x="950" y="113.1" width="42.2" height="8.4" rx="2.6" fill="#fff" stroke="#d9605c" stroke-width="0.7"/>
<text x="951.5" y="119.55" font-size="6.3" textLength="39" lengthAdjust="spacingAndGlyphs" fill="#111" stroke="#111" stroke-width="0.12">78.6%(1.74893)</text>
<rect x="950" y="138.5" width="42.2" height="8.4" rx="2.6" fill="#fff" stroke="#d9605c" stroke-width="0.7"/>
<text x="951.5" y="144.95" font-size="6.3" textLength="39" lengthAdjust="spacingAndGlyphs" fill="#111" stroke="#111" stroke-width="0.12">61.8%(1.73446)</text>
<rect x="950" y="156" width="42.2" height="8.4" rx="2.6" fill="#fff" stroke="#d9605c" stroke-width="0.7"/>
<text x="951.5" y="162.45" font-size="6.3" textLength="39" lengthAdjust="spacingAndGlyphs" fill="#111" stroke="#111" stroke-width="0.12">50.0%(1.72431)</text>
<rect x="950" y="173.3" width="42.2" height="8.4" rx="2.6" fill="#fff" stroke="#d9605c" stroke-width="0.7"/>
<text x="951.5" y="179.75" font-size="6.3" textLength="39" lengthAdjust="spacingAndGlyphs" fill="#111" stroke="#111" stroke-width="0.12">38.2%(1.71415)</text>
<rect x="950" y="195.3" width="42.2" height="8.4" rx="2.6" fill="#fff" stroke="#d9605c" stroke-width="0.7"/>
<text x="951.5" y="201.75" font-size="6.3" textLength="39" lengthAdjust="spacingAndGlyphs" fill="#111" stroke="#111" stroke-width="0.12">23.6%(1.70158)</text>
<rect x="953.5" y="231.3" width="38.7" height="8.4" rx="2.6" fill="#fff" stroke="#d9605c" stroke-width="0.7"/>
<text x="955" y="237.75" font-size="6.3" textLength="35.5" lengthAdjust="spacingAndGlyphs" fill="#111" stroke="#111" stroke-width="0.12">0.0%(1.68126)</text>
<path d="M946 161.2H993" stroke="#f80000" stroke-width="1.9"/>
<rect x="927.5" y="0" width="63.5" height="64.3" fill="#f4282d"/>
<text x="937" y="34.5" font-family="'Liberation Serif', serif" font-size="18.6" textLength="45.2" lengthAdjust="spacingAndGlyphs" fill="#fff" stroke="#fff" stroke-width="0.25">FxPro</text>
<text x="937" y="42.6" font-size="6.3" textLength="44.6" lengthAdjust="spacingAndGlyphs" fill="#fff">Trade Like a Pro</text>
<path d="M0.5 0V479" stroke="#666" stroke-width="1.1"/>
<path d="M0 0.5H1024" stroke="#444" stroke-width="1.3"/>
<path d="M0 419H993.2V1" stroke="#c4c8ba" stroke-width="0.8" fill="none"/>
<path d="M0 420.7H996" stroke="#444" stroke-width="0.9" fill="none"/>
<path d="M996.5 0V421M996.5 430.5V479" stroke="#444" stroke-width="0.9"/>
<path d="M0 430.7H1024" stroke="#333" stroke-width="0.9"/>
<path d="M0 478.4H1024" stroke="#333" stroke-width="1.2"/>
<path d="M1023.6 0V479" stroke="#555" stroke-width="0.9"/>
<path d="M994.1 1.16H996.6M994.1 4.64H996.6M994.1 8.12H996.6M994.1 11.6H996.6M994.1 15.08H996.6M994.1 18.56H996.6M994.1 22.04H996.6M994.1 25.52H996.6M994.1 29H996.6M994.1 32.48H996.6M994.1 35.96H996.6M994.1 39.44H996.6M994.1 42.92H996.6M994.1 46.4H996.6M994.1 49.88H996.6M994.1 53.36H996.6M994.1 56.84H996.6M994.1 60.32H996.6M994.1 63.8H996.6M994.1 67.28H996.6M994.1 70.76H996.6M994.1 74.24H996.6M994.1 77.72H996.6M994.1 81.2H996.6M994.1 84.68H996.6M994.1 88.16H996.6M994.1 91.64H996.6M994.1 95.12H996.6M994.1 98.6H996.6M994.1 102.08H996.6M994.1 105.56H996.6M994.1 109.04H996.6M994.1 112.52H996.6M994.1 116H996.6M994.1 119.48H996.6M994.1 122.96H996.6M994.1 126.44H996.6M994.1 129.92H996.6M994.1 133.4H996.6M994.1 136.88H996.6M994.1 140.36H996.6M994.1 143.84H996.6M994.1 147.32H996.6M994.1 150.8H996.6M994.1 154.28H996.6M994.1 157.76H996.6M994.1 161.24H996.6M994.1 164.72H996.6M994.1 168.2H996.6M994.1 171.68H996.6M994.1 175.16H996.6M994.1 178.64H996.6M994.1 182.12H996.6M994.1 185.6H996.6M994.1 189.08H996.6M994.1 192.56H996.6M994.1 196.04H996.6M994.1 199.52H996.6M994.1 203H996.6M994.1 206.48H996.6M994.1 209.96H996.6M994.1 213.44H996.6M994.1 216.92H996.6M994.1 220.4H996.6M994.1 223.88H996.6M994.1 227.36H996.6M994.1 230.84H996.6M994.1 234.32H996.6M994.1 237.8H996.6M994.1 241.28H996.6M994.1 244.76H996.6M994.1 248.24H996.6M994.1 251.72H996.6M994.1 255.2H996.6M994.1 258.68H996.6M994.1 262.16H996.6M994.1 265.64H996.6M994.1 269.12H996.6M994.1 272.6H996.6M994.1 276.08H996.6M994.1 279.56H996.6M994.1 283.04H996.6M994.1 286.52H996.6M994.1 290H996.6M994.1 293.48H996.6M994.1 296.96H996.6M994.1 300.44H996.6M994.1 303.92H996.6M994.1 307.4H996.6M994.1 310.88H996.6M994.1 314.36H996.6M994.1 317.84H996.6M994.1 321.32H996.6M994.1 324.8H996.6M994.1 328.28H996.6M994.1 331.76H996.6M994.1 335.24H996.6M994.1 338.72H996.6M994.1 342.2H996.6M994.1 345.68H996.6M994.1 349.16H996.6M994.1 352.64H996.6M994.1 356.12H996.6M994.1 359.6H996.6M994.1 363.08H996.6M994.1 366.56H996.6M994.1 370.04H996.6M994.1 373.52H996.6M994.1 377H996.6M994.1 380.48H996.6M994.1 383.96H996.6M994.1 387.44H996.6M994.1 390.92H996.6M994.1 394.4H996.6M994.1 397.88H996.6M994.1 401.36H996.6M994.1 404.84H996.6M994.1 408.32H996.6M994.1 411.8H996.6M994.1 415.28H996.6M994.1 418.76H996.6" stroke="#222" stroke-width="0.85"/>
<text x="998.2" y="31.5" font-size="7" textLength="23.6" lengthAdjust="spacingAndGlyphs" fill="#2a2a2a">1.80000</text>
<text x="998.2" y="66.3" font-size="7" textLength="23.6" lengthAdjust="spacingAndGlyphs" fill="#2a2a2a">1.78000</text>
<text x="998.2" y="101.1" font-size="7" textLength="23.6" lengthAdjust="spacingAndGlyphs" fill="#2a2a2a">1.76000</text>
<text x="998.2" y="135.9" font-size="7" textLength="23.6" lengthAdjust="spacingAndGlyphs" fill="#2a2a2a">1.74000</text>
<text x="998.2" y="205.5" font-size="7" textLength="23.6" lengthAdjust="spacingAndGlyphs" fill="#2a2a2a">1.70000</text>
<text x="998.2" y="240.3" font-size="7" textLength="23.6" lengthAdjust="spacingAndGlyphs" fill="#2a2a2a">1.68000</text>
<text x="998.2" y="275.1" font-size="7" textLength="23.6" lengthAdjust="spacingAndGlyphs" fill="#2a2a2a">1.66000</text>
<text x="998.2" y="309.9" font-size="7" textLength="23.6" lengthAdjust="spacingAndGlyphs" fill="#2a2a2a">1.64000</text>
<text x="998.2" y="344.7" font-size="7" textLength="23.6" lengthAdjust="spacingAndGlyphs" fill="#2a2a2a">1.62000</text>
<text x="998.2" y="379.5" font-size="7" textLength="23.6" lengthAdjust="spacingAndGlyphs" fill="#2a2a2a">1.60000</text>
<text x="998.2" y="414.3" font-size="7" textLength="23.6" lengthAdjust="spacingAndGlyphs" fill="#2a2a2a">1.58000</text>
<path d="M992.9 29H996.6M992.9 63.8H996.6M992.9 98.6H996.6M992.9 133.4H996.6M992.9 203H996.6M992.9 237.8H996.6M992.9 272.6H996.6M992.9 307.4H996.6M992.9 342.2H996.6M992.9 377H996.6M992.9 411.8H996.6" stroke="#222" stroke-width="0.85"/>
<path d="M993.6 150.4l3.4 -3.8H1024v7.6H997z" fill="#c3dce8" stroke="#9ab" stroke-width="0.5"/>
<text x="998.2" y="152.9" font-size="7" textLength="23.6" lengthAdjust="spacingAndGlyphs" fill="#111">1.73017</text>
<path d="M993.6 168.2l3.4 -3.8H1022.6v7.6H997z" fill="#fff" stroke="#777" stroke-width="0.7"/>
<path d="M1023.2 146V173" stroke="#222" stroke-width="1.4"/>
<text x="998.2" y="170.7" font-size="7" textLength="23.6" lengthAdjust="spacingAndGlyphs" fill="#111">1.72010</text>
<text x="27.2" y="428.1" font-size="6.7" textLength="28.4" lengthAdjust="spacingAndGlyphs" fill="#222">Aug-2019</text>
<text x="85.93" y="428.1" font-size="6.7" textLength="28.4" lengthAdjust="spacingAndGlyphs" fill="#222">Sep-2019</text>
<text x="141.99" y="428.1" font-size="6.7" textLength="28.4" lengthAdjust="spacingAndGlyphs" fill="#222">Oct-2019</text>
<text x="203.38" y="428.1" font-size="6.7" textLength="28.4" lengthAdjust="spacingAndGlyphs" fill="#222">Nov-2019</text>
<text x="259.44" y="428.1" font-size="6.7" textLength="28.4" lengthAdjust="spacingAndGlyphs" fill="#222">Dec-2019</text>
<text x="315.5" y="428.1" font-size="6.7" textLength="28.4" lengthAdjust="spacingAndGlyphs" fill="#222">Jan-2020</text>
<text x="374.22" y="428.1" font-size="6.7" textLength="28.4" lengthAdjust="spacingAndGlyphs" fill="#222">Feb-2020</text>
<text x="427.61" y="428.1" font-size="6.7" textLength="28.4" lengthAdjust="spacingAndGlyphs" fill="#222">Mar-2020</text>
<text x="486.34" y="428.1" font-size="6.7" textLength="28.4" lengthAdjust="spacingAndGlyphs" fill="#222">Apr-2020</text>
<text x="545.06" y="428.1" font-size="6.7" textLength="28.4" lengthAdjust="spacingAndGlyphs" fill="#222">May-2020</text>
<text x="601.12" y="428.1" font-size="6.7" textLength="28.4" lengthAdjust="spacingAndGlyphs" fill="#222">Jun-2020</text>
<text x="659.85" y="428.1" font-size="6.7" textLength="28.4" lengthAdjust="spacingAndGlyphs" fill="#222">Jul-2020</text>
<text x="721.25" y="428.1" font-size="6.7" textLength="28.4" lengthAdjust="spacingAndGlyphs" fill="#222">Aug-2020</text>
<text x="777.3" y="428.1" font-size="6.7" textLength="28.4" lengthAdjust="spacingAndGlyphs" fill="#222">Sep-2020</text>
<text x="836.03" y="428.1" font-size="6.7" textLength="28.4" lengthAdjust="spacingAndGlyphs" fill="#222">Oct-2020</text>
<text x="894.76" y="428.1" font-size="6.7" textLength="28.4" lengthAdjust="spacingAndGlyphs" fill="#222">Nov-2020</text>
<text x="950.81" y="428.1" font-size="6.7" textLength="28.4" lengthAdjust="spacingAndGlyphs" fill="#222">Dec-2020</text>
<path d="M1 439.5H996M1 468.6H996" stroke="#2a2a2a" stroke-width="0.9"/>
<path d="M1 453.3H996" stroke="#111" stroke-width="0.9" stroke-dasharray="2.2 1.3"/>
<polyline points="0,475.75 5,474.5 10,473 13.75,469.88 17.5,464.88 21.25,458.62 25,450.5 27.5,446.12 29.38,445.25 31.25,448.62 33.12,454.88 35.62,461.75 38.75,466.75 42.5,468.62 46.88,468.62 50,465.5 52.5,463.62 55.62,466.12 58.75,469 62.5,469.88 65,468.62 68.75,462.38 72.5,453 76.25,445.5 80,441.75 83.75,438.25 87.5,439 91.25,438.62 95,441.12 98.75,446.75 101.88,452.38 104.38,453.62 106.88,449.25 110,448 113.75,446.5 117.5,444.88 121.25,441.75 124.38,438.62 128,437.38 131.75,435.5 135.5,434.5 139.25,438 143,440.5 146.75,447.38 149.88,454.88 153,461.75 156.12,465.5 158,466.12 161.12,461.12 164.88,459.25 168,461.75 171.12,464.88 172.38,465.5 174.25,460.5 176.75,453.62 180.5,446.12 184.25,439.88 188.62,437.38 192.38,435.75 196.12,438 199.88,440.5 203.62,443.62 207.38,445.25 211.12,443.62 214.88,440.75 218,441.12 221.12,443.62 224.88,445.5 228,448.62 231.12,451.75 234.25,448.62 238,444.88 241.75,439.25 245.5,437 249.25,435.25 252.38,434.88 254.88,437.38 256,438.62 259.75,442.38 263.5,445.5 268.5,445.5 272.25,444.88 276,441.75 280.38,440.25 284.75,437 289.12,436.75 293.5,439.25 297.25,441.12 300.38,442.38 302.88,448 305.38,456.12 307.88,463.62 311,469.25 314.75,472.38 318.5,473.62 322.25,472.38 326,469.88 329.12,469.88 332.88,471.75 337.25,471.12 341,468 344.75,464.88 348.5,466.12 352.25,465.5 356,463 359.12,463.62 362.25,464.88 364.75,461.12 367.25,453 369.75,448.62 373.5,444.88 376.62,444.25 379.75,445.5 382.25,443 384,440.5 387.12,439.88 390.25,442.38 394.62,444.88 398.38,451.12 402.75,456.75 407.12,461.75 411.5,458 415.25,459.88 419,464.25 423.38,468.25 427.12,464.25 430.25,458.62 433.38,453 437.12,449 439.62,452.38 442.75,458.62 445.88,458.62 449,452.38 452.75,443.62 455.88,439.88 459.62,441.12 463.38,446.12 465.88,454.25 469,459.25 472.75,464.25 476.5,469.25 480.88,471.75 484.62,469.88 488.38,468 491.5,464.25 494,458 497.12,451.12 500.88,444.88 504,442.75 507.12,443.62 510.25,446.12 512,446.75 517,446.75 522,446.75 525.75,444.25 528.88,444.25 532.62,447.38 536.38,446.12 540.12,448 543.88,451.75 548.25,453.62 551.38,457.38 554.5,464.25 557,459.25 560.12,453 563.25,451.12 567,453 570.12,458.62 573.88,464.25 577.62,468.62 581.38,471.12 585.12,473.62 588.88,475.25 592.62,474.5 597,474 601.38,473.25 605.75,474.88 608.88,474.5 612,470.5 615.12,467.38 618.88,466.12 622,462.38 625.12,458 628.88,453 632,446.75 635.12,440.5 637.62,439.25 640,440.5 643.75,441.5 647.5,446.75 650,453 652.5,458.62 655.62,462.75 658.75,459.88 662.5,458.62 666.25,460.75 669.38,464.25 671.88,466.12 674.38,463 677.5,461.75 680.62,460.25 683.12,456.75 686.25,449.88 689.38,443.62 692.5,439.5 696.25,439.88 699.38,442.38 702.5,444.88 705.62,445.5 708.75,443.25 711.88,442 715,443.62 717.5,444.25 720.62,442.38 723.75,439.88 727.5,436.75 730.62,434.88 733.75,436.12 736.88,439 740,442 743.75,443.62 747.5,444.25 750.62,445.5 753.75,450.5 756.88,456.12 760,459.25 763.12,461.75 766.25,462.38 768,461.75 771.12,463.62 774.25,466.75 777.38,465.5 780.5,463 783.62,460.5 786.12,453.62 788.62,448 791.75,444 794.88,444.88 798,447.38 800.5,452.38 803,459.25 806.12,464.88 809.25,469.25 813,471.75 816.75,471.12 819.88,467.38 823,464.88 826.12,463.62 829.25,462.75 832.38,464.25 835.5,462.75 838.62,459.88 841.75,454.88 844.88,448 848,443.62 851.12,444.25 854.25,442.38 857.38,443 860.5,445.5 863.62,449.25 866.75,451.12 869.25,452.38 871.75,457.38 874.88,458.62 878,458.62 881.12,459.88 884.25,460.75 886.75,455.5 888.62,451.12 890.75,448" fill="none" stroke="#b04040" stroke-width="0.8" stroke-linejoin="round"/>
<polyline points="0,475.5 3.75,474 6.25,474.88 9.38,472.38 12.5,471.12 15,465.5 17.5,461.75 20,456.12 22.5,451.12 25,443.62 27.5,441.5 30,445.5 31.88,450.5 33.12,459.25 35,466.75 37.5,469.25 41.25,470.25 46.25,469.88 48.75,464.88 51.88,461.5 55,465.5 57.5,471.12 60.62,469.88 62.5,471.12 65,466.75 68.75,458 72.5,446.75 75.62,439.88 78.12,442.38 81.25,436.75 83.75,435.25 86.25,440.5 89.38,437.38 92.5,439.25 96.25,445.5 98.75,451.75 100.62,454.88 102.5,456.5 105.62,451.12 108.12,444.88 110,447.38 113.75,444.88 117.5,443.62 121.25,439.88 123.75,435.25 126.25,437.38 128,437 131.75,434.25 134.88,433.25 137.38,436.12 139.88,440.5 142.38,441.5 144.88,446.75 148,453.62 150.5,461.75 153,467.38 155.5,468.62 158,465.5 161.12,459.25 164.25,457.75 166.75,459.88 169.88,465.5 172,468.25 173.62,459.25 175.5,449.25 177.38,444.25 179.88,441.75 182.38,437 185.5,435.5 188,436.75 190.5,434.25 193,434.88 196.12,439.25 198.62,439.88 201.75,443.62 204.25,446.5 207.38,446.5 210.5,444.25 213.62,439.88 215.5,438.62 217.38,439.88 219.88,444.25 223,446.75 226.12,448.62 228.62,452.38 231.12,453.38 233.62,446.75 236.75,443 239.25,439.88 241.75,436.5 244.25,435.5 246.75,436.5 249.88,433.62 252.38,433.62 254.25,436.75 256,440.5 257.5,446.12 260.38,444.88 262.88,447.75 265.38,445.5 268.5,445.25 271,446.5 273.5,441.75 276,439.5 279.12,440.5 281.62,439.5 284.5,435.5 287.25,436.5 290.38,437.38 293.5,439.5 296.62,442.38 299.75,443.62 301.62,449.25 303.5,456.75 305.38,464.25 307.25,469.25 309.75,472.38 313.5,474.88 318.5,474.25 322.25,471.75 324.75,470.5 327,468 329.75,471.12 332.88,472.38 337.88,470.5 340.38,465.5 342.88,463.25 345.38,463.62 348.5,467.38 351,465.5 354.12,464.88 356.38,460.75 359.12,463.62 361.62,466.12 364.12,461.75 365.38,454.88 367,446.75 369.75,443 372.25,444.25 374.75,442 377.88,446.12 380.38,445.5 382.25,441.75 384,438 385.5,434.88 387.75,440.5 390.88,443.62 394,446.75 396.5,451.75 399.62,456.75 403.38,460.5 407.12,465.25 409.62,459.25 412.5,456.75 415.25,460.75 417.75,461.12 420.25,468 422.75,470.5 425.25,467.38 427.75,461.12 429.62,454.25 431.25,449.5 434,449.25 436.5,445.25 439,454.25 441.75,464.25 444.62,461.12 447.12,454.88 449.62,444.25 452.12,437.75 455,436.5 457.12,439.88 460.25,443.62 462.75,448 464.62,456.12 465.88,463 469,464.88 472.75,468 476.5,472.38 480.88,472.38 484,468.62 487.75,467.75 490.88,462.38 492.75,456.12 494.62,448.62 497.75,444.88 500.88,441.12 504,441.12 507.12,443.62 509.62,446.75 512,448 516.38,446.5 521.38,447.38 524.5,445.25 527.25,441.12 530.12,446.12 532.62,449.5 535.5,444.25 538.25,448.62 540.75,450.5 543.25,454.88 545.75,454.88 548.88,454.25 551.38,461.75 553.88,469 556.38,459.25 559.25,448.25 562,448 564.5,451.75 567,454.25 568.88,460.5 570.75,464.88 573.88,468 577.62,471.12 580.75,471.75 584.5,474.25 588.5,476.5 591.38,473.62 594.5,474.88 598.25,473.25 601.38,472.75 604.5,474.88 607.62,475.5 610.12,471.12 612.62,466.5 615.75,466.12 618.25,464.88 620.75,462.75 623.25,457.38 625.75,453.62 628.88,449.25 631.38,443.62 633.88,439.25 636.38,434.88 638.25,439.25 640,440.25 642.5,440.25 645,445.5 647.5,449.25 650,458 652.5,465.25 655.25,465.75 657.5,461.12 660,458.62 663.12,458 665.62,460.5 668.12,466.12 670.62,468 673.12,463 675,460.75 678.12,460.75 680.62,459.25 683.12,453.62 685,446.75 687.5,441.75 690,437 692.5,436.12 695,439.25 697.5,440.25 700,445.5 703.12,447 706.25,445.25 708.75,441.5 711.25,441.12 713.75,443.62 716.5,445.5 719.38,441.5 722.5,439.5 725.62,436.5 728.12,434 730.25,433.25 733.12,435.75 735.62,438.62 738.12,442.38 740.62,445.5 743.75,444.88 746.88,444.25 749.38,444.88 751.88,448.62 754.38,454.88 756.88,460.25 759.38,460.5 762.5,464.5 764.38,460.75 766.25,463 768,463.62 769.88,458.62 771.75,464.88 773.62,468.25 776.12,468.62 778.62,464.25 781.12,460.5 783.25,461.12 784.88,453 786.12,446.12 788.62,442.38 791.5,440.75 793.62,444.25 796.5,445.5 798.62,449.88 800.75,458.62 803,465.5 806.12,469.88 809.25,472.38 812.75,474 816.12,472 818.62,468 821.12,464.25 823.62,462.38 826.12,462.38 828.62,461.5 831.12,464.88 833.62,463.62 836.12,461.75 838.62,458 841.12,451.12 843.62,444.25 846.12,441.12 848,440.75 850.25,444.25 853,442.38 855.5,441.5 858,443.62 860.5,447.38 863.62,452.38 866.12,453 868.62,451.12 870.25,458 871.75,464.25 874,458.62 876.75,458 879.88,460.25 882.38,459 884.88,462 886.12,453 887.38,446.12 890.5,443.62" fill="none" stroke="#0a0a0a" stroke-width="1.05" stroke-linejoin="round"/>
<path d="M994.3 473.45H996.3M994.3 468.6H996.3M994.3 463.75H996.3M994.3 458.9H996.3M994.3 454.05H996.3M994.3 449.2H996.3M994.3 444.35H996.3M994.3 439.5H996.3M994.3 434.65H996.3" stroke="#333" stroke-width="0.8"/>
<path d="M993.4 439.5l3.6 -3.7H1015.5v7.4H997z" fill="#fff" stroke="#444" stroke-width="0.7"/>
<text x="998.2" y="441.9" font-size="6.5" textLength="15.6" lengthAdjust="spacingAndGlyphs" fill="#222">80.00</text>
<path d="M993.4 444.2l3.6 -3.7H1015.5v7.4H997z" fill="#fff" stroke="#444" stroke-width="0.7"/>
<text x="998.2" y="446.6" font-size="6.5" textLength="15.6" lengthAdjust="spacingAndGlyphs" fill="#222">69.85</text>
<path d="M993.4 454.2l3.6 -3.7H1015.5v7.4H997z" fill="#fff" stroke="#444" stroke-width="0.7"/>
<text x="998.2" y="456.6" font-size="6.5" textLength="15.6" lengthAdjust="spacingAndGlyphs" fill="#222">50.00</text>
<path d="M993.4 468.3l3.6 -3.7H1015.5v7.4H997z" fill="#fff" stroke="#444" stroke-width="0.7"/>
<text x="998.2" y="470.7" font-size="6.5" textLength="15.6" lengthAdjust="spacingAndGlyphs" fill="#222">20.00</text>
<text x="4" y="9" font-size="7.1" font-weight="bold" textLength="53.5" lengthAdjust="spacingAndGlyphs" fill="#111">GBPCAD - 1 day</text>
<text x="36.5" y="18.2" font-size="6.1" textLength="45" lengthAdjust="spacingAndGlyphs" fill="#6aa3a8">BB(20,20,2.0,2.0)</text>
<text x="3.5" y="440.1" font-size="6.9" font-weight="bold" textLength="46.5" lengthAdjust="spacingAndGlyphs" fill="#111">STO Slow(14,3)</text>
</svg>
</body></html>
